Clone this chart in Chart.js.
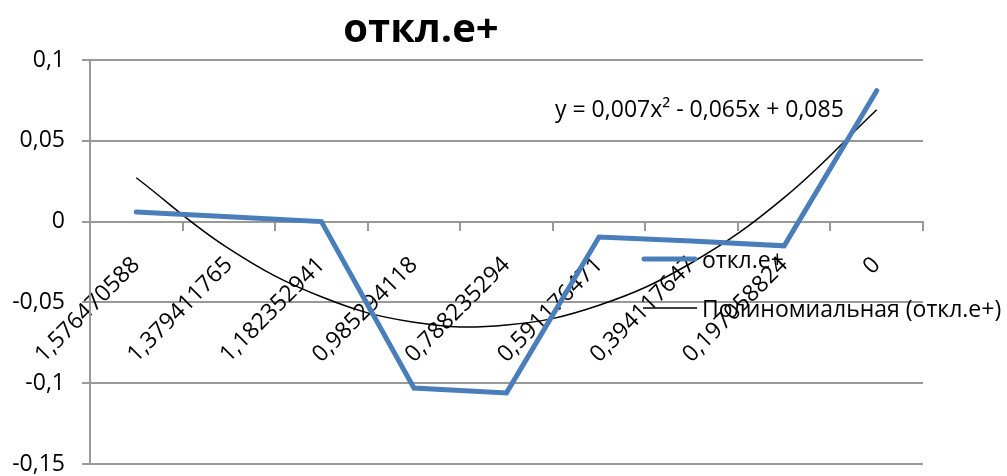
<!DOCTYPE html>
<html>
<head>
<meta charset="utf-8">
<script src="https://cdn.jsdelivr.net/npm/chart.js@4.4.1/dist/chart.umd.min.js"></script>
<style>
  html, body { margin: 0; padding: 0; background: #ffffff; }
  canvas { display: block; }
</style>
</head>
<body>
<canvas id="chart" width="1007" height="476"></canvas>
<script>
// Category labels (distance values) along the horizontal axis
const categories = ['1,576470588', '1,379411765', '1,182352941', '0,985294118', '0,788235294',
                    '0,591176471', '0,394117647', '0,197058824', '0'];
// Deviation series
const deviation = [0.006, 0.003, 0.0, -0.103, -0.106, -0.0095, -0.012, -0.015, 0.081];
// Value axis ticks
const yTicks = [-0.15, -0.1, -0.05, 0, 0.05, 0.1];

const seriesName = 'откл.е+';
const trendName = 'Полиномиальная (откл.е+)';
const chartTitle = 'откл.е+';

const FONT = '"Open Sans", "Noto Sans", sans-serif';
const BLUE = '#4a7ebb';
const GRID = '#999999';

// Second-order least-squares fit over x = 1..n
function quadFit(ys) {
  const S = [0, 0, 0, 0, 0], T = [0, 0, 0];
  ys.forEach((y, i) => {
    const x = i + 1;
    for (let k = 0; k < 5; k++) S[k] += Math.pow(x, k);
    for (let k = 0; k < 3; k++) T[k] += y * Math.pow(x, k);
  });
  // normal equations for [c, b, a]
  const M = [[S[0], S[1], S[2], T[0]], [S[1], S[2], S[3], T[1]], [S[2], S[3], S[4], T[2]]];
  for (let i = 0; i < 3; i++) {
    for (let j = i + 1; j < 3; j++) {
      const f = M[j][i] / M[i][i];
      for (let k = i; k < 4; k++) M[j][k] -= f * M[i][k];
    }
  }
  const r = [0, 0, 0];
  for (let i = 2; i >= 0; i--) {
    let s = M[i][3];
    for (let k = i + 1; k < 3; k++) s -= M[i][k] * r[k];
    r[i] = s / M[i][i];
  }
  return { c: r[0], b: r[1], a: r[2] };
}

const fit = quadFit(deviation);
const trend = categories.map((_, i) => {
  const x = i + 1;
  return fit.a * x * x + fit.b * x + fit.c;
});

const num = v => v.toFixed(3).replace('.', ',');
const sign = v => (v < 0 ? ' - ' : ' + ');
const equation = 'y = ' + num(fit.a) + 'x²' + sign(fit.b) + num(Math.abs(fit.b)) + 'x' +
                 sign(fit.c) + num(Math.abs(fit.c));

const fmtTick = v => {
  const s = String(Number(v.toFixed(2)));
  return s.replace('.', ',');
};

// Title, legend and trend equation drawn on top of the plot
const overlay = {
  id: 'overlay',
  afterDraw(chart) {
    const ctx = chart.ctx;
    ctx.save();
    ctx.fillStyle = '#000';
    ctx.textBaseline = 'alphabetic';

    ctx.font = 'bold 40px ' + FONT;
    ctx.textAlign = 'center';
    ctx.fillText(chartTitle, 421, 42);

    ctx.font = '23px ' + FONT;
    ctx.textAlign = 'left';
    ctx.fillText(equation, 555, 117);

    // legend
    ctx.lineCap = 'round';
    ctx.strokeStyle = BLUE;
    ctx.lineWidth = 5;
    ctx.beginPath(); ctx.moveTo(644, 259); ctx.lineTo(695, 259); ctx.stroke();
    ctx.fillText(seriesName, 702, 268);

    ctx.lineCap = 'butt';
    ctx.strokeStyle = '#000';
    ctx.lineWidth = 1.5;
    ctx.beginPath(); ctx.moveTo(643, 308); ctx.lineTo(697, 308); ctx.stroke();
    ctx.fillText(trendName, 702, 317);
    ctx.restore();
  }
};

new Chart(document.getElementById('chart'), {
  type: 'line',
  data: {
    labels: categories,
    datasets: [
      {
        label: seriesName,
        data: deviation,
        borderColor: BLUE,
        borderWidth: 5,
        borderJoinStyle: 'miter',
        borderCapStyle: 'round',
        pointRadius: 0,
        tension: 0,
        fill: false
      },
      {
        label: trendName,
        data: trend,
        borderColor: '#000000',
        borderWidth: 1.5,
        pointRadius: 0,
        tension: 0.4,
        fill: false
      }
    ]
  },
  options: {
    responsive: false,
    animation: false,
    devicePixelRatio: 1,
    layout: { padding: { left: 0, top: 60, right: 84, bottom: 12 } },
    plugins: {
      legend: { display: false },
      title: { display: false },
      tooltip: { enabled: false }
    },
    scales: {
      x: {
        type: 'category',
        position: { y: 0 },
        offset: true,
        afterFit: s => { s.paddingTop = 0; s.paddingBottom = 0; },
        grid: {
          offset: true,
          drawOnChartArea: false,
          drawTicks: true,
          tickLength: 8,
          color: GRID,
          lineWidth: 2
        },
        border: { display: true, color: GRID, width: 2 },
        ticks: {
          autoSkip: false,
          minRotation: 45,
          maxRotation: 45,
          padding: 22,
          color: '#000',
          font: { family: FONT, size: 23 }
        }
      },
      y: {
        min: yTicks[0],
        max: yTicks[yTicks.length - 1],
        afterBuildTicks: s => { s.ticks = yTicks.map(v => ({ value: v })); },
        afterFit: s => { s.width = 90; s.paddingTop = 0; s.paddingBottom = 0; },
        grid: {
          color: GRID,
          lineWidth: 2,
          tickLength: 8,
          drawTicks: true
        },
        border: { display: true, color: GRID, width: 2 },
        ticks: {
          padding: 17,
          color: '#000',
          font: { family: FONT, size: 23 },
          callback: v => fmtTick(v)
        }
      }
    }
  },
  plugins: [overlay]
});
</script>
</body>
</html>
